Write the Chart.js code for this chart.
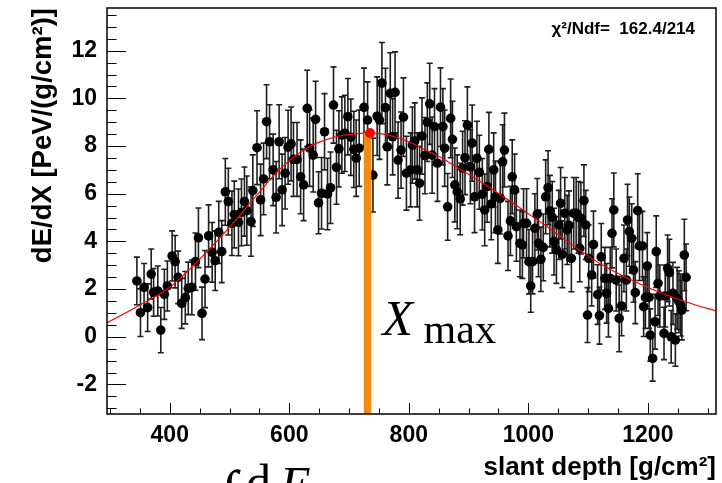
<!DOCTYPE html>
<html>
<head>
<meta charset="utf-8">
<title>Longitudinal profile</title>
<script src="https://cdn.jsdelivr.net/npm/chart.js@4.4.1/dist/chart.umd.min.js"></script>
<style>
  html, body { margin: 0; padding: 0; background: #fff; }
  canvas { display: block; }
</style>
</head>
<body>
<canvas id="chart" width="722" height="483"></canvas>
<script>
// measured profile: slant depth [g/cm2], dE/dX [PeV/(g/cm2)] and its error
const depth = [
  345, 351, 357, 363, 369, 373, 380, 385, 391, 396, 404, 409, 414, 420, 426, 431, 437, 443, 448, 454,
  459, 465, 471, 476, 482, 487, 493, 498, 504, 508, 515, 520, 525, 529, 536, 539, 546, 552, 557, 562,
  567, 573, 578, 583, 588, 593, 598, 603, 607, 613, 619, 624, 630, 634, 640, 644, 649, 654, 659, 664,
  669, 674, 679, 683, 688, 693, 698, 703, 708, 712, 717, 725, 731, 740, 747, 751, 755, 761, 764, 769,
  773, 777, 782, 787, 791, 796, 803, 806, 810, 814, 818, 822, 827, 831, 835, 839, 843, 848, 853, 857,
  860, 865, 870, 873, 877, 881, 886, 890, 894, 898, 903, 906, 910, 914, 918, 923, 927, 931, 934, 938,
  942, 945, 949, 953, 957, 960, 966, 970, 973, 977, 980, 986, 990, 992, 997, 1001, 1004, 1007, 1011, 1015,
  1017, 1021, 1025, 1029, 1033, 1036, 1040, 1043, 1047, 1051, 1054, 1057, 1061, 1065, 1068, 1072, 1076, 1080, 1084, 1086,
  1088, 1093, 1096, 1099, 1101, 1106, 1109, 1116, 1119, 1122, 1128, 1131, 1134, 1137, 1140, 1143, 1147, 1152, 1156, 1160,
  1164, 1166, 1169, 1173, 1176, 1179, 1183, 1186, 1191, 1193, 1196, 1199, 1202, 1204, 1208, 1212, 1214, 1217, 1220, 1227,
  1229, 1233, 1236, 1239, 1242, 1246, 1249, 1252, 1255, 1257, 1261, 1264
];
const dEdX = [
  2.34, 1.01, 2.07, 1.22, 2.63, 1.86, 1.92, 0.28, 1.78, 2.13, 3.39, 3.15, 2.49, 1.40, 1.64, 2.03, 2.07, 3.15, 4.15, 0.98,
  2.42, 4.23, 3.54, 3.19, 4.38, 3.57, 6.08, 5.67, 4.76, 5.13, 4.80, 5.22, 5.67, 5.29, 4.83, 6.13, 7.93, 5.74, 6.62, 9.02,
  8.18, 7.00, 5.85, 8.18, 6.16, 6.86, 7.95, 8.09, 7.44, 7.44, 6.71, 6.37, 9.58, 7.91, 7.62, 9.12, 5.62, 6.02, 8.60, 5.99,
  6.25, 9.72, 7.11, 7.88, 8.46, 8.53, 9.23, 8.37, 7.86, 7.49, 7.91, 9.62, 9.09, 6.78, 9.25, 9.09, 10.64, 9.61, 7.97, 10.21,
  8.39, 10.25, 7.41, 7.83, 9.21, 6.86, 7.00, 8.04, 8.21, 7.00, 6.44, 8.42, 7.60, 9.00, 9.77, 7.62, 8.81, 7.28, 9.63, 8.81,
  7.91, 5.45, 9.16, 8.28, 6.37, 6.08, 5.78, 7.07, 7.51, 8.88, 7.13, 8.12, 5.87, 7.49, 6.90, 5.98, 5.32, 6.30, 7.86, 5.57,
  7.00, 5.87, 4.48, 5.81, 7.34, 7.83, 4.23, 4.86, 6.71, 6.16, 4.62, 3.92, 3.85, 4.76, 4.76, 3.15, 2.13, 3.15, 4.55, 5.14,
  3.92, 3.25, 3.75, 5.87, 6.25, 5.27, 5.01, 3.99, 3.64, 4.69, 5.60, 3.46, 5.18, 4.48, 4.67, 3.29, 5.18, 5.18, 5.01, 3.71,
  4.97, 5.71, 4.69, 0.91, 3.29, 2.59, 3.87, 1.77, 0.89, 3.35, 2.45, 1.82, 1.19, 2.45, 4.34, 5.32, 2.38, 0.77, 1.29, 3.29,
  2.38, 4.90, 4.41, 4.13, 2.80, 1.85, 5.29, 3.81, 3.81, 1.26, 1.65, 2.97, 1.65, 0.07, -0.91, 0.63, 3.57, 2.24, 1.71, 0.14,
  1.71, 2.87, 2.69, 0.00, 1.82, -0.14, 1.61, 1.47, 1.33, 1.12, 3.43, 2.49
];
const dEdXErr = [
  1.00, 1.00, 1.00, 1.00, 1.05, 1.00, 1.05, 0.95, 1.05, 1.05, 1.05, 1.10, 1.10, 1.05, 1.10, 1.10, 1.15, 1.20, 1.25, 1.10,
  1.20, 1.30, 1.25, 1.25, 1.30, 1.30, 1.40, 1.40, 1.35, 1.40, 1.40, 1.40, 1.45, 1.45, 1.45, 1.50, 1.55, 1.50, 1.50, 1.55,
  1.55, 1.50, 1.50, 1.55, 1.50, 1.50, 1.55, 1.55, 1.55, 1.55, 1.55, 1.50, 1.60, 1.60, 1.55, 1.60, 1.30, 1.50, 1.60, 1.50,
  1.50, 1.60, 1.55, 1.60, 1.60, 1.60, 1.60, 1.60, 1.60, 1.60, 1.60, 1.65, 1.60, 1.55, 1.65, 1.65, 1.70, 1.65, 1.60, 1.70,
  1.60, 1.70, 1.60, 1.60, 1.65, 1.55, 1.55, 1.60, 1.60, 1.55, 1.55, 1.60, 1.60, 1.65, 1.70, 1.60, 1.60, 1.60, 1.65, 1.60,
  1.60, 1.40, 1.65, 1.60, 1.55, 1.55, 1.50, 1.55, 1.55, 1.60, 1.55, 1.60, 1.50, 1.55, 1.55, 1.50, 1.50, 1.50, 1.55, 1.50,
  1.55, 1.50, 1.40, 1.50, 1.55, 1.55, 1.45, 1.45, 1.55, 1.50, 1.45, 1.40, 1.40, 1.45, 1.45, 1.35, 1.10, 1.35, 1.45, 1.50,
  1.40, 1.35, 1.40, 1.55, 1.55, 1.50, 1.50, 1.40, 1.40, 1.45, 1.50, 1.40, 1.50, 1.45, 1.45, 1.40, 1.50, 1.50, 1.50, 1.40,
  1.50, 1.50, 1.45, 1.15, 1.40, 1.30, 1.40, 1.25, 1.20, 1.40, 1.30, 1.25, 1.20, 1.30, 1.45, 1.55, 1.30, 1.40, 1.25, 1.40,
  1.30, 1.50, 1.45, 1.45, 1.35, 1.30, 1.55, 1.45, 1.45, 1.25, 1.30, 1.40, 1.30, 1.10, 0.95, 1.15, 1.50, 1.35, 1.30, 1.10,
  1.30, 1.40, 1.40, 1.10, 1.30, 1.10, 1.30, 1.30, 1.30, 1.25, 1.50, 1.40
];

// fitted profile
const fitDepth = [295, 345, 401, 446, 496, 546, 585, 619, 646, 680, 719, 735, 772, 800, 828, 856, 883, 911, 939, 962, 985, 1031, 1121, 1210, 1280, 1314];
const fitValue = [0.59, 1.26, 2.10, 3.15, 4.48, 5.95, 7.05, 7.75, 8.12, 8.40, 8.53, 8.55, 8.42, 8.18, 7.83, 7.49, 7.07, 6.65, 6.19, 5.81, 5.42, 4.62, 3.05, 1.96, 1.33, 1.09];

const xmaxBarDepth = 731;
const peakDepth = 735;
const peakValue = 8.55;

const xTicks = [400, 600, 800, 1000, 1200];
const yTicks = [-2, 0, 2, 4, 6, 8, 10, 12];
const xRange = [295, 1314];
const yRange = [-3.24, 13.79];
const chi2Text = "χ²/Ndf=  162.4/214";

const sansBold = (size) => ({ family: '"Liberation Sans", Arial, sans-serif', size, weight: 'bold' });

// error bars under the markers
const errorBars = {
  id: 'errorBars',
  beforeDatasetDraw(chart, args) {
    if (args.index !== 3) return;
    const { ctx, chartArea: a, scales: { x, y } } = chart;
    ctx.save();
    ctx.beginPath();
    ctx.rect(a.left, a.top, a.width, a.height);
    ctx.clip();
    ctx.strokeStyle = '#1e1e1e';
    ctx.lineWidth = 1.6;
    ctx.beginPath();
    depth.forEach((d, i) => {
      const px = x.getPixelForValue(d);
      const top = y.getPixelForValue(dEdX[i] + dEdXErr[i]);
      const bot = y.getPixelForValue(dEdX[i] - dEdXErr[i]);
      ctx.moveTo(px, top); ctx.lineTo(px, bot);
      ctx.moveTo(px - 3, top); ctx.lineTo(px + 3, top);
      ctx.moveTo(px - 3, bot); ctx.lineTo(px + 3, bot);
    });
    ctx.stroke();
    ctx.restore();
  }
};

// ROOT style frame, inner ticks and text labels
const rootFrame = {
  id: 'rootFrame',
  afterDatasetsDraw(chart) {
    const { ctx, chartArea: a, scales: { x, y } } = chart;
    ctx.save();
    ctx.strokeStyle = '#000';
    ctx.lineWidth = 1;
    ctx.beginPath();
    for (let v = 300; v <= xRange[1]; v += 50) {
      const px = Math.round(x.getPixelForValue(v)) + 0.5;
      const len = v % 200 === 0 ? 11 : 5.5;
      ctx.moveTo(px, a.bottom); ctx.lineTo(px, a.bottom - len);
    }
    for (let v = -3; v <= yRange[1]; v += 0.5) {
      const py = Math.round(y.getPixelForValue(v)) + 0.5;
      const len = v % 2 === 0 ? 19 : 9.5;
      ctx.moveTo(a.left, py); ctx.lineTo(a.left + len, py);
    }
    ctx.stroke();
    ctx.lineWidth = 1.5;
    ctx.strokeRect(a.left, a.top, a.width, a.height);

    ctx.fillStyle = '#000';
    ctx.textBaseline = 'alphabetic';
    ctx.textAlign = 'right';
    ctx.font = 'bold 17px "Liberation Sans", Arial, sans-serif';
    ctx.fillText(chi2Text, a.right - 21, a.top + 26);

    // X_max label next to the orange marker
    const bx = x.getPixelForValue(xmaxBarDepth);
    ctx.textAlign = 'left';
    ctx.font = 'italic 50px "Liberation Serif", "DejaVu Serif", serif';
    ctx.fillText('X', bx + 15, 335);
    ctx.font = '42px "Liberation Serif", "DejaVu Serif", serif';
    ctx.fillText('max', bx + 56, 343);

    // top of the integral formula cut by the bottom edge
    ctx.font = '60px "Liberation Serif", "DejaVu Serif", serif';
    ctx.fillText('∫', 221, 512);
    ctx.font = '50px "Liberation Serif", serif';
    ctx.fillText('d', 246, 499);
    ctx.font = 'italic 50px "Liberation Serif", serif';
    ctx.fillText('E', 280, 501);
    ctx.restore();
  }
};

new Chart(document.getElementById('chart'), {
  type: 'scatter',
  data: {
    datasets: [
      {
        label: 'peak',
        data: [{ x: peakDepth, y: peakValue }],
        pointRadius: 5,
        pointBackgroundColor: '#ff0000',
        pointBorderWidth: 0
      },
      {
        label: 'Xmax',
        data: [{ x: xmaxBarDepth, y: peakValue }, { x: xmaxBarDepth, y: yRange[0] }],
        showLine: true,
        borderColor: '#f38b0e',
        borderWidth: 7.5,
        borderCapStyle: 'butt',
        pointRadius: 0,
        clip: 0
      },
      {
        label: 'fit',
        data: fitDepth.map((d, i) => ({ x: d, y: fitValue[i] })),
        showLine: true,
        borderColor: '#ff0000',
        borderWidth: 1.2,
        cubicInterpolationMode: 'monotone',
        pointRadius: 0,
        clip: 0
      },
      {
        label: 'data',
        data: depth.map((d, i) => ({ x: d, y: dEdX[i] })),
        pointRadius: 4.8,
        pointBackgroundColor: '#000',
        pointBorderWidth: 0
      }
    ]
  },
  options: {
    responsive: false,
    animation: false,
    devicePixelRatio: 1,
    events: [],
    layout: { padding: { top: 8, right: 6, left: 0, bottom: 0 } },
    plugins: { legend: { display: false }, tooltip: { enabled: false } },
    scales: {
      x: {
        type: 'linear',
        position: 'bottom',
        min: xRange[0],
        max: xRange[1],
        grid: { display: false, drawTicks: false },
        border: { display: false },
        afterBuildTicks: (axis) => { axis.ticks = xTicks.map(v => ({ value: v })); },
        afterFit: (scale) => { scale.height = 69; scale.paddingLeft = 0; scale.paddingRight = 0; },
        ticks: { color: '#000', font: sansBold(23), padding: 8, maxRotation: 0, autoSkip: false, callback: (v) => String(v) },
        title: {
          display: true,
          text: 'slant depth [g/cm²]',
          align: 'end',
          color: '#000',
          font: sansBold(26),
          padding: { top: 0, bottom: 0 }
        }
      },
      y: {
        type: 'linear',
        min: yRange[0],
        max: yRange[1],
        grid: { display: false, drawTicks: false },
        border: { display: false },
        afterBuildTicks: (axis) => { axis.ticks = yTicks.map(v => ({ value: v })); },
        afterFit: (scale) => { scale.width = 107; scale.paddingTop = 0; scale.paddingBottom = 0; },
        ticks: { color: '#000', font: sansBold(23), padding: 10, callback: (v) => String(v) },
        title: {
          display: true,
          text: 'dE/dX [PeV/(g/cm²)]',
          align: 'end',
          color: '#000',
          font: sansBold(27.5),
          padding: { top: 27, bottom: 0 }
        }
      }
    }
  },
  plugins: [errorBars, rootFrame]
});
</script>
</body>
</html>
